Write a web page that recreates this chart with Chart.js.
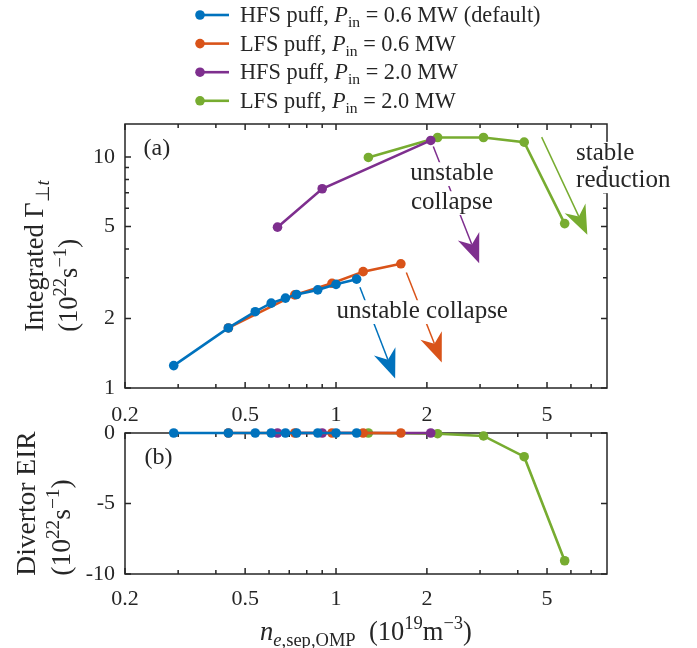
<!DOCTYPE html>
<html>
<head>
<meta charset="utf-8">
<script src="https://cdn.jsdelivr.net/npm/chart.js@4.4.1/dist/chart.umd.min.js"></script>
<style>
  html, body { margin: 0; padding: 0; background: #fff; }
  #wrap { position: relative; width: 697px; height: 648px; }
  canvas { position: absolute; left: 0; top: 0; }
</style>
</head>
<body>
<div id="wrap">
  <canvas id="top" width="697" height="648"></canvas>
  <canvas id="bottom" width="697" height="648"></canvas>
</div>
<script>
// separatrix density at the outer midplane (1e19 m^-3) for each scan
const neHfs06 = [0.29, 0.44, 0.54, 0.61, 0.68, 0.74, 0.87, 1.0, 1.17];
const neLfs06 = [0.44, 0.73, 0.97, 1.23, 1.64];
const neHfs20 = [0.64, 0.90, 2.06];
const neLfs20 = [1.28, 2.17, 3.08, 4.2, 5.72];

// integrated perpendicular particle flux (1e22 s^-1)
const gammaHfs06 = [1.25, 1.82, 2.14, 2.33, 2.45, 2.54, 2.66, 2.81, 2.96];
const gammaLfs06 = [1.82, 2.53, 2.84, 3.19, 3.45];
const gammaHfs20 = [4.97, 7.29, 11.8];
const gammaLfs20 = [9.96, 12.15, 12.15, 11.6, 5.15];

// divertor EIR (1e22 s^-1)
const eirHfs06 = [0, 0, 0, 0, 0, 0, 0, 0, 0];
const eirLfs06 = [0, 0, 0, 0, 0];
const eirHfs20 = [0, 0, 0];
const eirLfs20 = [0, -0.05, -0.21, -1.68, -9.06];

// tick values
const neTicks = [0.2, 0.5, 1, 2, 5];
const neMinor = [0.3, 0.4, 0.6, 0.7, 0.8, 0.9, 3, 4, 6, 7];
const gammaTicks = [1, 2, 5, 10];
const gammaMinor = [3, 4, 6, 7, 8, 9];
const eirTicks = [-10, -5, 0];

const INK = '#262626';
const FONT = '"Liberation Serif", "Times New Roman", serif';
const COLORS = ['#0072BD', '#D95319', '#7E2F8E', '#77AC30'];

// rich text pieces: plain, italic, subscript, superscript
const R = t => ({ t });
const I = t => ({ t, it: true });
const Sub = (t, it) => ({ t, sub: true, it: !!it });
const Sup = t => ({ t, sup: true });

function fontOf(size, it) { return (it ? 'italic ' : '') + size + 'px ' + FONT; }

function measureRich(ctx, segs, size) {
    let w = 0;
    segs.forEach(s => {
        const sz = (s.sub || s.sup) ? size * 0.7 : size;
        ctx.font = fontOf(sz, s.it);
        s._w = ctx.measureText(s.t).width;
        s._sz = sz;
        w += s._w;
    });
    return w;
}

function drawRich(ctx, segs, x, y, size, align)
{
    const w = measureRich(ctx, segs, size);
    let cx = align === 'center' ? x - w / 2 : align === 'right' ? x - w : x;
    ctx.textBaseline = 'alphabetic';
    ctx.textAlign = 'left';
    segs.forEach(s => {
        ctx.font = fontOf(s._sz, s.it);
        const dy = s.sub ? size * 0.22 : s.sup ? -size * 0.4 : 0;
        ctx.fillText(s.t, cx, y + dy);
        cx += s._w;
    });
    return w;
}

// two-line axis title, rotated, lines left aligned inside a centred block
function drawYTitle(ctx, lines, baselines, cy, size)
{
    const widths = lines.map(l => measureRich(ctx, l, size));
    const maxW = Math.max(...widths);
    lines.forEach((l, i) => {
        ctx.save();
        ctx.translate(baselines[i], cy);
        ctx.rotate(-Math.PI / 2);
        ctx.fillStyle = INK;
        drawRich(ctx, l, -maxW / 2, 0, size, 'left');
        ctx.restore();
    });
}

function drawArrow(ctx, x0, y0, x1, y1, color)
{
    const dx = x1 - x0, dy = y1 - y0;
    const len = Math.hypot(dx, dy);
    const ux = dx / len, uy = dy / len;
    const nx = -uy, ny = ux;
    const L = 29, H = 11.5, notch = 20;
    ctx.save();
    ctx.strokeStyle = color;
    ctx.fillStyle = color;
    ctx.lineWidth = 1.5;
    ctx.beginPath();
    ctx.moveTo(x0, y0);
    ctx.lineTo(x1 - ux * notch, y1 - uy * notch);
    ctx.stroke();
    ctx.beginPath();
    ctx.moveTo(x1, y1);
    ctx.lineTo(x1 - ux * L + nx * H, y1 - uy * L + ny * H);
    ctx.lineTo(x1 - ux * notch, y1 - uy * notch);
    ctx.lineTo(x1 - ux * L - nx * H, y1 - uy * L - ny * H);
    ctx.closePath();
    ctx.fill();
    ctx.restore();
}

// text lines centred on a point, with a white box behind each line
function drawNote(ctx, lines, x, y, size, gap, align)
{
    const n = lines.length;
    lines.forEach((txt, i) => {
        const base = y + (i - (n - 1) / 2) * gap + size * 0.3;
        ctx.font = fontOf(size, false);
        const w = ctx.measureText(txt).width;
        const left = align === 'left' ? x : x - w / 2;
        ctx.fillStyle = '#fff';
        ctx.fillRect(left - 2, base - size * 0.72, w + 4, size * 0.95);
        ctx.fillStyle = INK;
        ctx.textAlign = 'left';
        ctx.textBaseline = 'alphabetic';
        ctx.fillText(txt, left, base);
    });
}

function makeFrame(cfg)
{
    return {
        id: 'frame',
        beforeDatasetsDraw(chart) {
            const { ctx, chartArea: a } = chart;
            const sx = chart.scales.x, sy = chart.scales.y;
            ctx.save();
            ctx.strokeStyle = INK;
            ctx.lineWidth = 1.5;
            ctx.beginPath();
            const mark = (vals, len, isX) => vals.forEach(v => {
                if (isX) {
                    const px = sx.getPixelForValue(v);
                    ctx.moveTo(px, a.bottom); ctx.lineTo(px, a.bottom - len);
                    ctx.moveTo(px, a.top); ctx.lineTo(px, a.top + len);
                } else {
                    const py = sy.getPixelForValue(v);
                    ctx.moveTo(a.left, py); ctx.lineTo(a.left + len, py);
                    ctx.moveTo(a.right, py); ctx.lineTo(a.right - len, py);
                }
            });
            mark(cfg.xMajor, 6, true);
            mark(cfg.xMinor, 4, true);
            mark(cfg.yMajor, 6, false);
            mark(cfg.yMinor, 4, false);
            ctx.stroke();
            ctx.strokeRect(a.left, a.top, a.right - a.left, a.bottom - a.top);
            ctx.restore();
        }
    };
}

function series(xs, ys, color)
{
    return {
        data: xs.map((x, i) => ({ x: x, y: ys[i] })),
        borderColor: color,
        backgroundColor: color,
        borderWidth: 2.6,
        pointRadius: 4.8,
        pointBorderWidth: 0,
        pointHoverRadius: 4.8,
        clip: false,
        tension: 0
    };
}

function fixedTicks(values)
{
    return scale => { scale.ticks = values.map(v => ({ value: v })); };
}

const legendLabels = [
    [R('HFS puff, '), I('P'), Sub('in'), R(' = 0.6 MW (default)')],
    [R('LFS puff, '), I('P'), Sub('in'), R(' = 0.6 MW')],
    [R('HFS puff, '), I('P'), Sub('in'), R(' = 2.0 MW')],
    [R('LFS puff, '), I('P'), Sub('in'), R(' = 2.0 MW')],
];

const topNotes = {
    id: 'topNotes',
    afterDraw(chart) {
        const { ctx } = chart;
        const sx = chart.scales.x, sy = chart.scales.y;
        const P = (x, y) => [sx.getPixelForValue(x), sy.getPixelForValue(y)];

        // legend
        legendLabels.forEach((lab, i) => {
            const y = 15 + i * 28.6;
            ctx.save();
            ctx.strokeStyle = COLORS[i];
            ctx.fillStyle = COLORS[i];
            ctx.lineWidth = 2.6;
            ctx.beginPath();
            ctx.moveTo(200, y); ctx.lineTo(229, y);
            ctx.stroke();
            ctx.beginPath();
            ctx.arc(200, y, 4.8, 0, Math.PI * 2);
            ctx.fill();
            ctx.fillStyle = INK;
            drawRich(ctx, lab, 240, y + 7, 22.3, 'left');
            ctx.restore();
        });

        // arrows
        const arrows = [
            [1.20, 2.73, 1.57, 1.10, COLORS[0]],
            [1.71, 3.16, 2.24, 1.29, COLORS[1]],
            [2.10, 11.1, 2.98, 3.47, COLORS[2]],
            [4.80, 12.2, 6.80, 4.61, COLORS[3]],
        ];
        arrows.forEach(a => {
            const p0 = P(a[0], a[1]), p1 = P(a[2], a[3]);
            drawArrow(ctx, p0[0], p0[1], p1[0], p1[1], a[4]);
        });

        let p = P(1.93, 2.16);
        drawNote(ctx, ['unstable collapse'], p[0], p[1], 25, 29, 'center');
        p = P(2.42, 7.40);
        drawNote(ctx, ['unstable', 'collapse'], p[0], p[1], 25, 29, 'center');
        p = P(6.24, 9.13);
        drawNote(ctx, ['stable', 'reduction'], p[0], p[1], 25, 27.5, 'left');
        p = P(0.255, 10.97);
        drawNote(ctx, ['(a)'], p[0], p[1], 24, 0, 'center');

        ctx.save();
        drawYTitle(ctx,
            [[R('Integrated Γ'), Sub('⊥'), Sub('t', true)],
             [R('(10'), Sup('22'), R('s'), Sup('−1'), R(')')]],
            [43, 77], (chart.chartArea.top + chart.chartArea.bottom) / 2, 26.5);
        ctx.restore();
    }
};

const bottomNotes = {
    id: 'bottomNotes',
    afterDraw(chart) {
        const { ctx, chartArea: a } = chart;
        const sx = chart.scales.x, sy = chart.scales.y;
        drawNote(ctx, ['(b)'], sx.getPixelForValue(0.258), sy.getPixelForValue(-1.7), 24, 0, 'center');

        ctx.save();
        drawYTitle(ctx,
            [[R('Divertor EIR')],
             [R('(10'), Sup('22'), R('s'), Sup('−1'), R(')')]],
            [35, 70], (a.top + a.bottom) / 2, 27.5);
        ctx.fillStyle = INK;
        drawRich(ctx,
            [I('n'), Sub('e', true), Sub(',sep,OMP'), R('  (10'), Sup('19'), R('m'), Sup('−3'), R(')')],
            (a.left + a.right) / 2, 640, 26.5, 'center');
        ctx.restore();
    }
};

function axisX(padding, height)
{
    return {
        type: 'logarithmic',
        min: 0.2,
        max: 7.9,
        grid: { display: false },
        border: { display: false },
        afterBuildTicks: fixedTicks(neTicks),
        afterFit: s => { s.height = height; },
        ticks: {
            autoSkip: false,
            maxRotation: 0,
            padding: padding,
            color: INK,
            font: { family: FONT, size: 22 },
            callback: v => String(v)
        }
    };
}

function axisY(type, min, max, ticks)
{
    return {
        type: type,
        min: min,
        max: max,
        grid: { display: false, drawTicks: false },
        border: { display: false },
        afterBuildTicks: fixedTicks(ticks),
        afterFit: s => { s.width = 125; },
        ticks: {
            autoSkip: false,
            padding: 10,
            color: INK,
            font: { family: FONT, size: 22 },
            callback: v => String(v)
        }
    };
}

Chart.defaults.animation = false;
Chart.defaults.devicePixelRatio = 1;

// upper panel: plot box 125..607 x 124..388
new Chart(document.getElementById('top'), {
    type: 'line',
    data: {
        datasets: [
            series(neHfs06, gammaHfs06, COLORS[0]),
            series(neLfs06, gammaLfs06, COLORS[1]),
            series(neHfs20, gammaHfs20, COLORS[2]),
            series(neLfs20, gammaLfs20, COLORS[3]),
        ]
    },
    options: {
        responsive: false,
        events: [],
        layout: { padding: { left: 0, top: 124, right: 90, bottom: 0 } },
        plugins: { legend: { display: false }, tooltip: { enabled: false } },
        scales: {
            x: axisX(6, 648 - 388),
            y: axisY('logarithmic', 1, 13.9, gammaTicks)
        }
    },
    plugins: [makeFrame({ xMajor: neTicks, xMinor: neMinor, yMajor: gammaTicks, yMinor: gammaMinor }), topNotes]
});

// lower panel: plot box 125..607 x 433..574
new Chart(document.getElementById('bottom'), {
    type: 'line',
    data: {
        datasets: [
            series(neHfs06, eirHfs06, COLORS[0]),
            series(neLfs06, eirLfs06, COLORS[1]),
            series(neHfs20, eirHfs20, COLORS[2]),
            series(neLfs20, eirLfs20, COLORS[3]),
        ]
    },
    options: {
        responsive: false,
        events: [],
        layout: { padding: { left: 0, top: 433, right: 90, bottom: 0 } },
        plugins: { legend: { display: false }, tooltip: { enabled: false } },
        scales: {
            x: axisX(4, 648 - 574),
            y: axisY('linear', -10, 0, eirTicks)
        }
    },
    plugins: [makeFrame({ xMajor: neTicks, xMinor: neMinor, yMajor: eirTicks, yMinor: [] }), bottomNotes]
});
</script>
</body>
</html>
